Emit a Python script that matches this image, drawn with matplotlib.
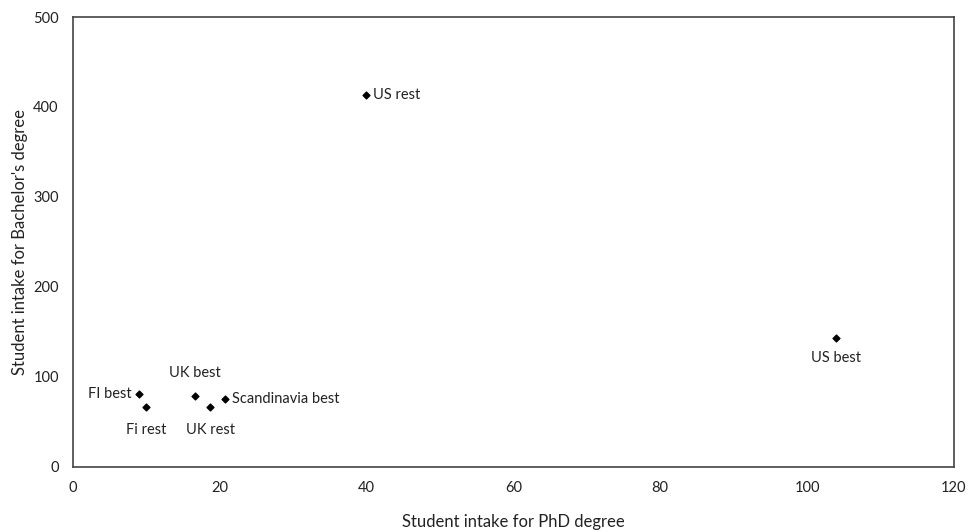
import matplotlib.pyplot as plt

# Data
names = ["US rest", "US best", "FI best", "Fi rest", "UK best", "UK rest", "Scandinavia best"]
phd = [40, 104, 9, 10, 16.7, 18.7, 20.8]
bachelor = [413, 143, 81, 66, 79, 66, 75]

# where each label sits relative to its point (offset in points, ha, va)
label_pos = {
    "US rest": ((5, 0), "left", "center"),
    "US best": ((0, -9), "center", "top"),
    "FI best": ((-5, 0), "right", "center"),
    "Fi rest": ((0, -11), "center", "top"),
    "UK best": ((0, 11), "center", "bottom"),
    "UK rest": ((0, -11), "center", "top"),
    "Scandinavia best": ((5, 0), "left", "center"),
}

plt.rcParams['font.family'] = ['Lato', 'DejaVu Sans']
plt.rcParams['font.size'] = 10.5

fig = plt.figure(figsize=(9.68, 5.32), dpi=100)
ax = fig.add_axes([0.0751, 0.1227, 0.9104, 0.8453])

ax.scatter(phd, bachelor, marker="D", s=12, color="black", zorder=3)
for n, x, y in zip(names, phd, bachelor):
    off, ha, va = label_pos[n]
    ax.annotate(n, (x, y), xytext=off, textcoords="offset points",
                ha=ha, va=va, color="#222222", fontsize=10.5)

ax.set_xlim(0, 120)
ax.set_ylim(0, 500)
ax.set_xticks(range(0, 121, 20))
ax.set_yticks(range(0, 501, 100))
ax.tick_params(length=0, pad=10, colors="#222222", labelsize=10.5)
for s in ax.spines.values():
    s.set_color("#444444")
    s.set_linewidth(1.2)

ax.set_xlabel("Student intake for PhD degree", labelpad=14, color="#222222", fontsize=12)
ax.set_ylabel("Student intake for Bachelor's degree", labelpad=4, color="#222222", fontsize=12)

plt.savefig("out.png", dpi=100)
